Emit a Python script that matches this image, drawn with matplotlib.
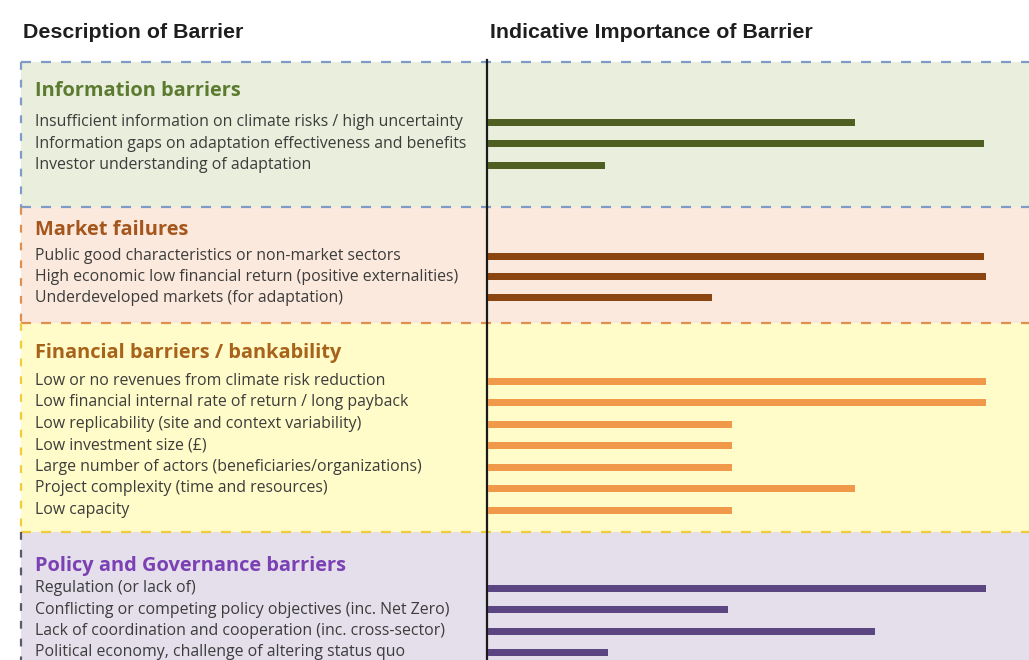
import matplotlib.pyplot as plt
from matplotlib.patches import Rectangle

# --- data -------------------------------------------------------------
section_titles = [
    "Information barriers",
    "Market failures",
    "Financial barriers / bankability",
    "Policy and Governance barriers",
]

info_items = [
    "Insufficient information on climate risks / high uncertainty",
    "Information gaps on adaptation effectiveness and benefits",
    "Investor understanding of adaptation",
]
info_values = [2.95, 3.98, 0.94]

market_items = [
    "Public good characteristics or non-market sectors",
    "High economic low financial return (positive externalities)",
    "Underdeveloped markets (for adaptation)",
]
market_values = [3.98, 4.0, 1.80]

finance_items = [
    "Low or no revenues from climate risk reduction",
    "Low financial internal rate of return / long payback",
    "Low replicability (site and context variability)",
    "Low investment size (\u00a3)",
    "Large number of actors (beneficiaries/organizations)",
    "Project complexity (time and resources)",
    "Low capacity",
]
finance_values = [4.0, 4.0, 1.96, 1.96, 1.96, 2.95, 1.96]

policy_items = [
    "Regulation (or lack of)",
    "Conflicting or competing policy objectives (inc. Net Zero)",
    "Lack of coordination and cooperation (inc. cross-sector)",
    "Political economy, challenge of altering status quo",
]
policy_values = [4.0, 1.93, 3.11, 0.96]

# --- styling / layout (pixel units, figure is 1029 x 660) --------------
W, H = 1029, 660
section_items = [info_items, market_items, finance_items, policy_items]
section_values = [info_values, market_values, finance_values, policy_values]
section_top = [62, 207, 323, 532]
section_head_y = [91, 230, 353, 566]
section_first_row = [122, 256, 381, 588]
row_step = [21.7, 20.8, 21.5, 21.5]

bg_colors = ["#e9efdc", "#fbe9dd", "#fffcc9", "#e4dfeb"]
border_colors = ["#7f9cc8", "#e0904e", "#f0cc38", "#5a5a6a"]
# the dashed line on top of each section takes the colour of the section above
top_line_colors = ["#7f9cc8", "#7f9cc8", "#e0904e", "#f0cc38"]
title_colors = ["#5c7a30", "#a4561c", "#a8621a", "#7a40b4"]
bar_colors = ["#4f5f22", "#8a4510", "#f0994a", "#5c4682"]
text_color = "#3c3c3c"

left_x = 21
axis_x = 488
text_x = 35
body_font = "Open Sans"
head_font = "Liberation Sans"

fig = plt.figure(figsize=(W / 100, H / 100), dpi=100)
ax = fig.add_axes([0, 0, 1, 1])
ax.set_xlim(0, W)
ax.set_ylim(H, 0)
ax.axis("off")

# bar axes share the same pixel rows, x is importance 0..4
bx = fig.add_axes([axis_x / W, 0, (W - axis_x) / W, 1])
bx.set_xlim(0, 4 * (W - axis_x) / 498)
bx.set_ylim(H, 0)
bx.axis("off")
bx.patch.set_alpha(0)

bounds = section_top + [H]
for i in range(4):
    top, bottom = bounds[i], bounds[i + 1]
    ax.add_patch(Rectangle((left_x, top), W - left_x, bottom - top,
                           facecolor=bg_colors[i], edgecolor="none", zorder=0))
    ax.plot([left_x, W], [top, top], color=top_line_colors[i], lw=1.6,
            dashes=(4.5, 4.5), zorder=2)
    ax.plot([left_x, left_x], [top, bottom], color=border_colors[i], lw=1.6,
            dashes=(3.5, 4.5), zorder=2)

    ax.text(text_x, section_head_y[i], section_titles[i], color=title_colors[i],
            fontsize=14.4, fontweight="bold", family=body_font,
            va="center", ha="left", zorder=3)

    rows = [section_first_row[i] + k * row_step[i] for k in range(len(section_items[i]))]
    for y, label in zip(rows, section_items[i]):
        ax.text(text_x, y, label, color=text_color, fontsize=11.4,
                family=body_font, va="center", ha="left", zorder=3)
    bx.barh(rows, section_values[i], height=7, left=0,
            color=bar_colors[i], zorder=3)

# vertical axis line
ax.plot([axis_x - 1, axis_x - 1], [section_top[0] - 2, H], color="#1a1a1a",
        lw=1.6, zorder=4)

ax.text(23, 33, "Description of Barrier", fontsize=15.4, fontweight="bold",
        family=head_font, color="#1e1e1e", va="center", ha="left")
ax.text(490, 33, "Indicative Importance of Barrier", fontsize=15.4,
        fontweight="bold", family=head_font, color="#1e1e1e", va="center", ha="left")

fig.savefig("out.png", dpi=100)
